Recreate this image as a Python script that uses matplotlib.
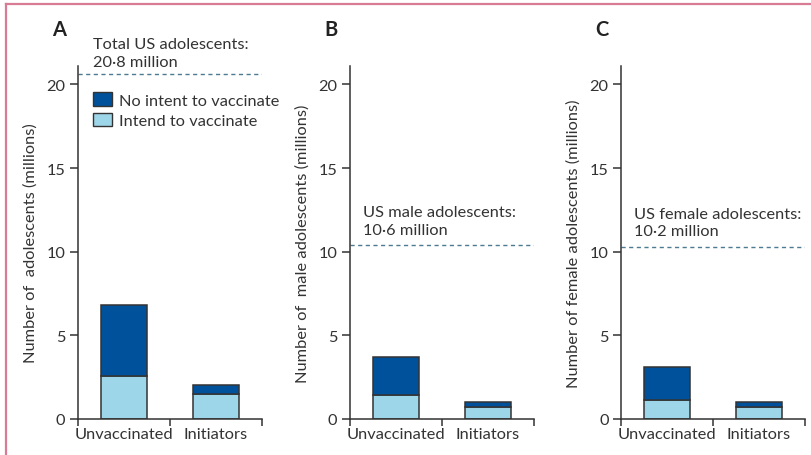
import matplotlib.pyplot as plt
from matplotlib.lines import Line2D
from matplotlib.patches import Patch

plt.rcParams['font.family'] = ['Lato', 'DejaVu Sans']

categories = ['Unvaccinated', 'Initiators']
panels = ['A', 'B', 'C']
intend = [[2.6, 1.52], [1.44, 0.72], [1.14, 0.70]]
no_intent = [[4.23, 0.52], [2.29, 0.28], [1.96, 0.32]]
totals = [20.6, 10.4, 10.3]
total_labels = ['Total US adolescents:\n20·8 million',
                'US male adolescents:\n10·6 million',
                'US female adolescents:\n10·2 million']
ylabels = ['Number of  adolescents (millions)',
           'Number of  male adolescents (millions)',
           'Number of female adolescents (millions)']

dark = '#00519c'
light = '#9dd6e8'
ink = '#333333'
fs = 11.8

fig = plt.figure(figsize=(8.11, 4.56), dpi=100)
lefts = [78 / 811, 350 / 811, 621 / 811]
for i in range(3):
    ax = fig.add_axes([lefts[i], 36 / 456, 184 / 811, 353 / 456])
    x = [0.5, 1.5]
    ax.bar(x, intend[i], width=0.49, color=light, edgecolor=ink, linewidth=1.1)
    ax.bar(x, no_intent[i], bottom=intend[i], width=0.49, color=dark,
           edgecolor=ink, linewidth=1.1)
    ax.plot([0, 2], [totals[i], totals[i]],
            linestyle=(0, (3, 2.5)), color='#4c7b92', linewidth=1)
    ax.set_xlim(0, 2)
    ax.set_ylim(0, 21.1)
    ax.set_yticks([0, 5, 10, 15, 20])
    ax.set_xticks([0, 1, 2])
    ax.set_xticklabels([])
    ax.set_xticks(x, minor=True)
    ax.set_xticklabels(categories, minor=True)
    ax.tick_params(axis='x', which='minor', length=0, pad=6)
    ax.tick_params(axis='x', which='major', length=5, width=1.1, color=ink)
    ax.tick_params(axis='y', length=6, width=1.1, color=ink, pad=3)
    ax.tick_params(which='both', labelsize=fs, labelcolor=ink)
    for s in ['top', 'right']:
        ax.spines[s].set_visible(False)
    for s in ['left', 'bottom']:
        ax.spines[s].set_color(ink)
        ax.spines[s].set_linewidth(1.1)
    ax.set_ylabel(ylabels[i], fontsize=fs, color=ink, labelpad=6)
    ax.text(-0.14, 1.105, panels[i], transform=ax.transAxes,
            fontsize=14.5, fontweight='bold', color='#222222', va='center', ha='left')
    if i == 0:
        ax.text(0.08, 20.95, total_labels[i], transform=ax.get_yaxis_transform(),
                fontsize=fs, color=ink, va='bottom', linespacing=1.3)
        ax.legend([Patch(facecolor=dark, edgecolor=ink),
                   Patch(facecolor=light, edgecolor=ink)],
                  ['No intent to vaccinate', 'Intend to vaccinate'],
                  loc='upper left', bbox_to_anchor=(0.08, 0.925), frameon=False,
                  fontsize=fs, labelcolor=ink, handlelength=1.2,
                  handleheight=0.9, handletextpad=0.4, labelspacing=0.3,
                  borderaxespad=0, borderpad=0)
    else:
        ax.text(0.07, totals[i] + 0.5, total_labels[i], transform=ax.get_yaxis_transform(),
                fontsize=fs, color=ink, va='bottom', linespacing=1.3)

frame_color = '#d87c96'
fig.add_artist(Line2D([6 / 811, 6 / 811], [0, 1 - 5 / 456], color=frame_color,
                      linewidth=1.6, transform=fig.transFigure))
fig.add_artist(Line2D([6 / 811, 1], [1 - 5 / 456, 1 - 5 / 456], color=frame_color,
                      linewidth=1.6, transform=fig.transFigure))

fig.savefig('out.png', dpi=100)
